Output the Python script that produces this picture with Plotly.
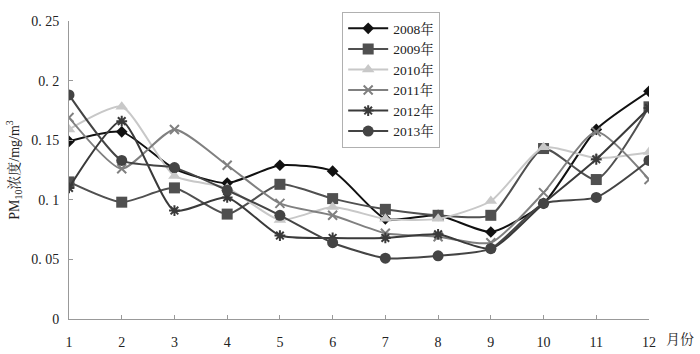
import plotly.graph_objects as go

months = [1, 2, 3, 4, 5, 6, 7, 8, 9, 10, 11, 12]
month_labels = ["1", "2", "3", "4", "5", "6", "7", "8", "9", "10", "11", "12"]
y_tick_vals = [0, 0.05, 0.1, 0.15, 0.2, 0.25]
y_tick_text = ["0", "0. 05", "0. 1", "0. 15", "0. 2", "0. 25"]

pm2008 = [0.149, 0.157, 0.126, 0.114, 0.129, 0.124, 0.084, 0.087, 0.073, 0.097, 0.159, 0.191]
pm2009 = [0.115, 0.098, 0.110, 0.088, 0.113, 0.101, 0.092, 0.087, 0.087, 0.143, 0.117, 0.178]
pm2010 = [0.159, 0.178, 0.120, 0.110, 0.083, 0.094, 0.084, 0.084, 0.099, 0.144, 0.135, 0.140]
pm2011 = [0.169, 0.126, 0.159, 0.129, 0.097, 0.087, 0.072, 0.069, 0.064, 0.106, 0.157, 0.117]
pm2012 = [0.110, 0.166, 0.091, 0.102, 0.070, 0.068, 0.068, 0.071, 0.059, 0.097, 0.134, 0.177]
pm2013 = [0.188, 0.133, 0.127, 0.108, 0.087, 0.064, 0.051, 0.053, 0.059, 0.097, 0.102, 0.133]

series = [
    ("2008年", pm2008, "#111111", "diamond", 9, 0),
    ("2009年", pm2009, "#505050", "square", 11, 0),
    ("2010年", pm2010, "#c8c8c8", "triangle-up", 11, 0),
    ("2011年", pm2011, "#808080", "x-thin-open", 9, 2),
    ("2012年", pm2012, "#3a3a3a", "asterisk-open", 9, 2),
    ("2013年", pm2013, "#444444", "circle", 11, 0),
]

font_family = "Liberation Serif, Noto Serif CJK SC, Noto Sans CJK SC, serif"

fig = go.Figure()
for name, vals, color, sym, size, lw in series:
    marker = dict(symbol=sym, size=size, color=color)
    if lw:
        marker["line"] = dict(color=color, width=lw)
    fig.add_trace(go.Scatter(
        x=months, y=vals, name=name, mode="lines+markers",
        line=dict(color=color, width=2, shape="spline", smoothing=0.6),
        marker=marker,
    ))

fig.update_layout(
    width=700, height=354,
    margin=dict(l=69, r=51, t=19, b=35),
    paper_bgcolor="white", plot_bgcolor="white",
    font=dict(family=font_family, size=13, color="#222222"),
    showlegend=True,
    legend=dict(
        x=0.471, y=1.03, xanchor="left", yanchor="top",
        bordercolor="#b0b0b0", borderwidth=1, bgcolor="white",
        font=dict(size=13.5, family=font_family, color="#222222"),
        tracegroupgap=0, itemwidth=40,
    ),
    xaxis=dict(
        range=[1, 12], tickvals=months, ticktext=month_labels,
        showgrid=False, zeroline=False, showline=True, linecolor="#999999",
        ticks="inside", ticklen=4, tickcolor="#999999",
        ticklabelstandoff=10, automargin=False,
        tickfont=dict(size=14, family=font_family, color="#222222"),
    ),
    yaxis=dict(
        range=[0, 0.25], tickvals=y_tick_vals, ticktext=y_tick_text,
        showgrid=False, zeroline=False, showline=True, linecolor="#999999",
        ticks="inside", ticklen=4, tickcolor="#999999",
        ticklabelstandoff=6, automargin=False,
        tickfont=dict(size=14, family=font_family, color="#222222"),
        title=dict(text="PM<sub>10</sub>浓度/mg/m<sup>3</sup>", standoff=8,
                   font=dict(size=14, family=font_family, color="#222222")),
    ),
)

fig.add_annotation(
    text="月份", xref="paper", yref="paper", x=1.025, y=0, yshift=-20,
    xanchor="left", yanchor="middle", showarrow=False,
    font=dict(size=14, family=font_family, color="#222222"),
)

fig.write_html("out.html")
